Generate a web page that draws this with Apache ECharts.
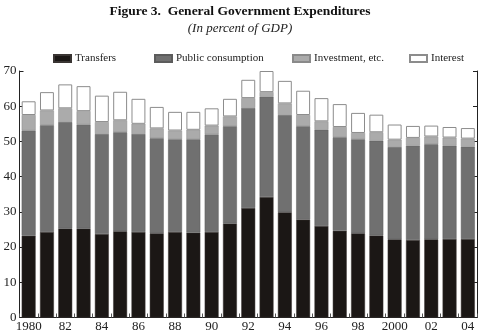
<!DOCTYPE html>
<html>
<head>
<meta charset="utf-8">
<script src="https://cdn.jsdelivr.net/npm/echarts@6/dist/echarts.min.js"></script>
<style>
  html, body { margin: 0; padding: 0; background: #fff; }
  #chart { width: 480px; height: 335px; }
</style>
</head>
<body>
<div id="chart"></div>
<script>
// Expenditure components, percent of GDP, 1980-2004
const years = ['1980','1981','1982','1983','1984','1985','1986','1987','1988','1989','1990','1991','1992',
               '1993','1994','1995','1996','1997','1998','1999','2000','2001','2002','2003','2004'];
const transfers = [23.2, 24.3, 25.3, 25.3, 23.7, 24.5, 24.3, 23.9, 24.3, 24.1, 24.3, 26.7, 31.1,
                   34.2, 29.9, 27.8, 26.0, 24.6, 23.9, 23.3, 22.2, 22.0, 22.2, 22.3, 22.3];
const publicConsumption = [29.9, 30.3, 30.2, 29.5, 28.4, 28.1, 27.8, 27.0, 26.3, 26.5, 27.7, 27.6, 28.4,
                           28.5, 27.6, 26.5, 27.3, 26.6, 26.7, 26.9, 26.2, 26.8, 27.0, 26.5, 26.2];
const investment = [4.4, 4.2, 3.9, 3.8, 3.4, 3.4, 2.9, 2.8, 2.5, 2.7, 2.5, 2.8, 2.8,
                    1.3, 3.3, 3.2, 2.4, 2.9, 1.8, 2.4, 2.1, 2.2, 2.2, 2.3, 2.3];
const interest = [3.9, 5.2, 6.8, 7.1, 7.5, 8.1, 7.1, 6.1, 5.3, 5.1, 4.9, 5.0, 5.2,
                  6.0, 6.4, 6.9, 6.6, 6.5, 5.7, 5.0, 4.3, 3.4, 3.1, 3.0, 3.0];
const seriesNames = ['Transfers', 'Public consumption', 'Investment, etc.', 'Interest'];

const serif = '"Liberation Serif", "DejaVu Serif", serif';
const axisColor = '#222';

// Year labels: full year at 1980 and 2000, two digits otherwise
function yearLabel(v) {
  return (v === '1980' || v === '2000') ? v : v.slice(2);
}

const chart = echarts.init(document.getElementById('chart'), null, { renderer: 'canvas' });

const swatchColors = ['#1b1715', '#707070', '#ababab', '#ffffff'];
const legendLefts = [48, 149, 287, 404];

const legends = seriesNames.map((name, i) => ({
  data: [name],
  left: legendLefts[i],
  top: 48,
  itemWidth: 17,
  itemHeight: 7,
  itemGap: 0,
  selectedMode: false,
  textStyle: { fontFamily: serif, fontSize: 11, color: '#222', padding: [0, 0, 0, -1] },
  icon: 'rect'
}));

const barBase = {
  type: 'bar',
  stack: 'total',
  barCategoryGap: '24%',
  emphasis: { disabled: true }
};

chart.setOption({
  animation: false,
  backgroundColor: '#fff',
  title: [
    {
      text: 'Figure 3.  General Government Expenditures',
      left: 'center',
      top: 0,
      textStyle: { fontFamily: serif, fontSize: 13.5, fontWeight: 'bold', color: '#111' }
    },
    {
      text: '(In percent of GDP)',
      left: 'center',
      top: 17,
      textStyle: { fontFamily: serif, fontSize: 13, fontStyle: 'italic', fontWeight: 'normal', color: '#222' }
    }
  ],
  legend: legends,
  grid: { left: 19.5, right: 3, top: 71, bottom: 17.5, containLabel: false },
  xAxis: {
    type: 'category',
    data: years,
    boundaryGap: true,
    axisLine: { lineStyle: { color: axisColor, width: 1 } },
    axisTick: { show: true, inside: true, length: 4, interval: 0, lineStyle: { color: '#555' } },
    axisLabel: {
      interval: 1,
      formatter: yearLabel,
      fontFamily: serif,
      fontSize: 13,
      color: '#222',
      margin: 3
    }
  },
  yAxis: [
    {
      type: 'value',
      min: 0,
      max: 70,
      interval: 10,
      position: 'left',
      axisLine: { show: true, lineStyle: { color: axisColor, width: 1 } },
      axisTick: { show: true, inside: true, length: 4, lineStyle: { color: axisColor } },
      axisLabel: { fontFamily: serif, fontSize: 13, color: '#222', margin: 3 },
      splitLine: { show: false }
    },
    {
      type: 'value',
      min: 0,
      max: 70,
      interval: 10,
      position: 'right',
      axisLine: { show: true, lineStyle: { color: axisColor, width: 1 } },
      axisTick: { show: true, inside: true, length: 4, lineStyle: { color: axisColor } },
      axisLabel: { show: false },
      splitLine: { show: false }
    }
  ],
  series: [
    Object.assign({}, barBase, {
      name: seriesNames[0], data: transfers,
      itemStyle: { color: swatchColors[0], borderColor: '#3a3533', borderWidth: 0.5 }
    }),
    Object.assign({}, barBase, {
      name: seriesNames[1], data: publicConsumption,
      itemStyle: { color: swatchColors[1], borderColor: '#5c5c5c', borderWidth: 0.5 }
    }),
    Object.assign({}, barBase, {
      name: seriesNames[2], data: investment,
      itemStyle: { color: swatchColors[2], borderColor: '#8a8a8a', borderWidth: 0.5 }
    }),
    Object.assign({}, barBase, {
      name: seriesNames[3], data: interest,
      itemStyle: { color: swatchColors[3], borderColor: '#8c8c8c', borderWidth: 1 }
    })
  ]
});
</script>
</body>
</html>
